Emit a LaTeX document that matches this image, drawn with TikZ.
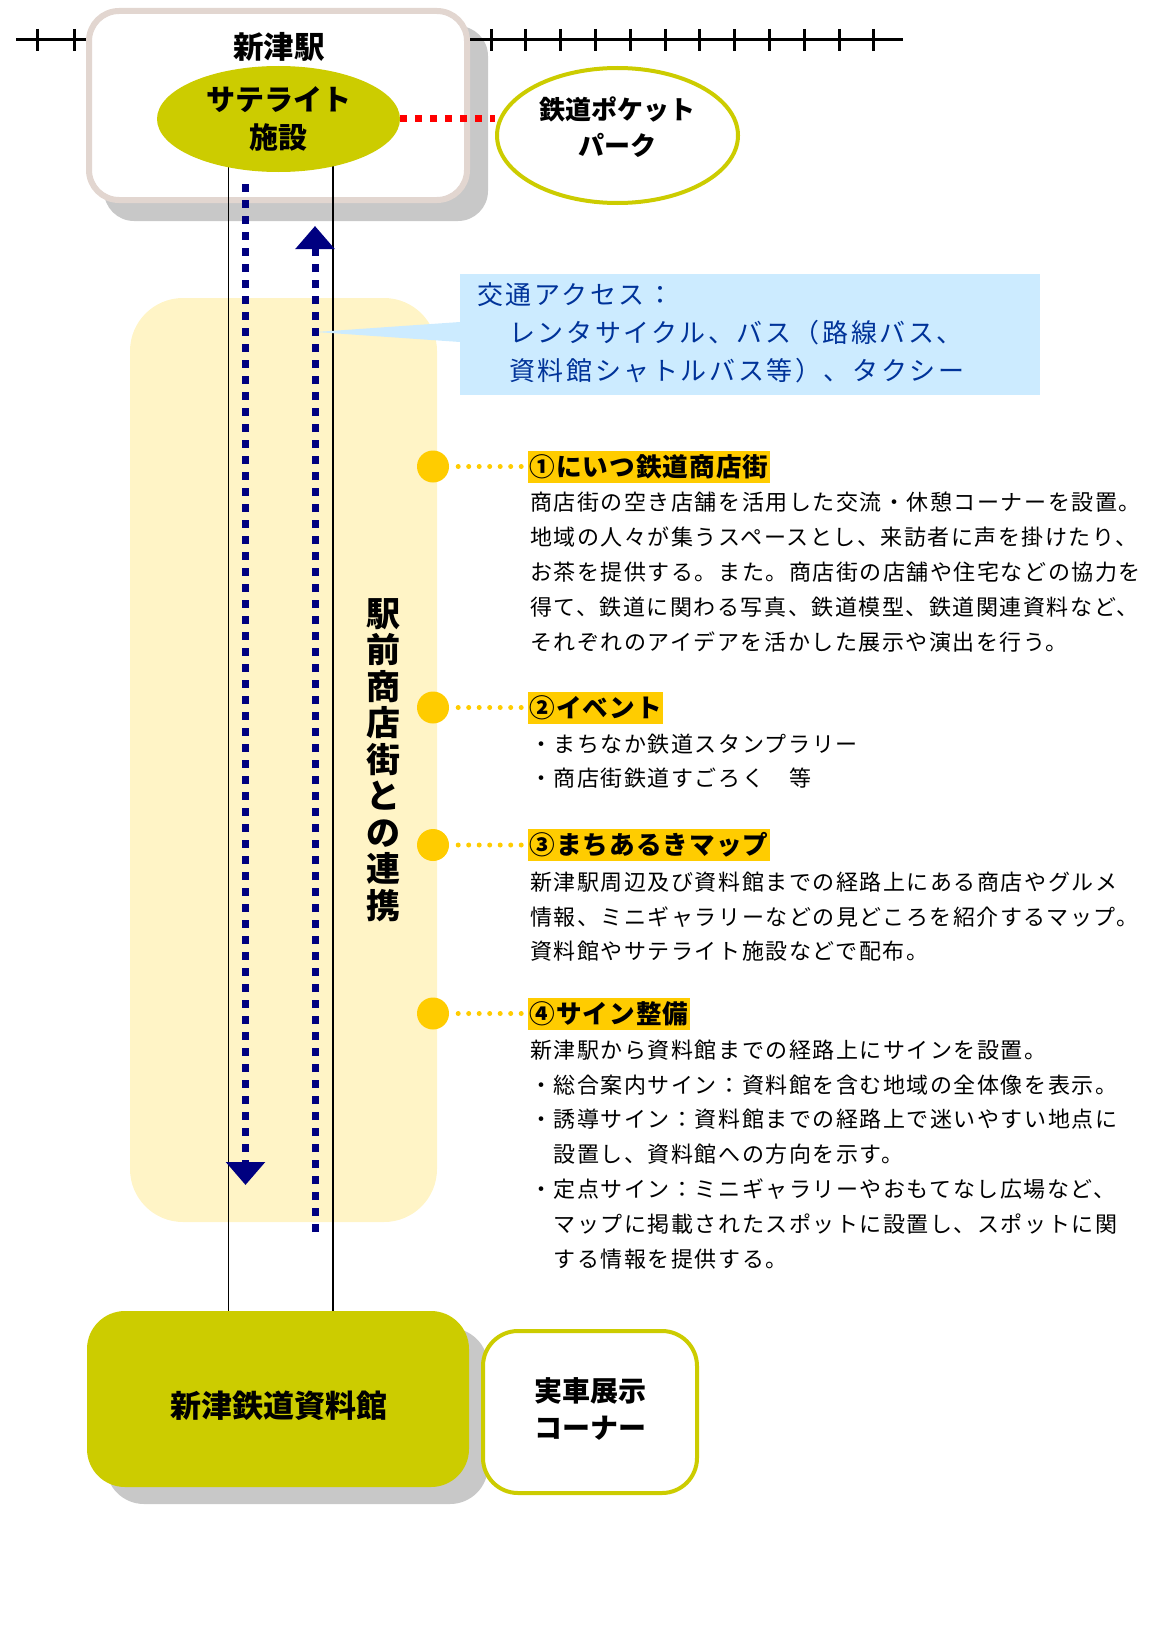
\documentclass[tikz,border=0pt]{standalone}
\usepackage{fontspec}
\setmainfont{Noto Sans CJK JP}
\newfontfamily\jpbody[LetterSpace=7]{Noto Sans CJK JP}
\newfontfamily\jphead[LetterSpace=4]{Noto Sans CJK JP}
\newfontfamily\jpcall[LetterSpace=10]{Noto Sans CJK JP}
\usetikzlibrary{shapes.geometric,arrows.meta}
\definecolor{ocol}{HTML}{CCCC00}
\definecolor{frameC}{HTML}{E2D6D0}
\definecolor{shadowC}{HTML}{C8C8C8}
\definecolor{regionC}{HTML}{FFF4C6}
\definecolor{calloutC}{HTML}{CCEBFF}
\definecolor{calltext}{HTML}{003399}
\definecolor{dotC}{HTML}{FFCC00}
\definecolor{navyC}{HTML}{000080}
\tikzset{
  rail/.style={draw=black, line width=3pt},
  stationbox/.style={draw=frameC, line width=6pt, fill=white, rounded corners=30pt, minimum width=378pt, minimum height=189pt, inner sep=0pt},
  satell/.style={ellipse, fill=ocol, minimum width=243pt, minimum height=106pt, inner sep=0pt, align=center, font=\bfseries\fontsize{29pt}{38pt}\selectfont},
  parkell/.style={ellipse, draw=ocol, line width=4pt, fill=white, minimum width=241pt, minimum height=135pt, inner sep=0pt},
  museumbox/.style={fill=ocol, rounded corners=38pt, minimum width=382pt, minimum height=176pt, inner sep=0pt},
  carbox/.style={draw=ocol, line width=4pt, fill=white, rounded corners=35pt, minimum width=214pt, minimum height=162pt, inner sep=0pt},
  shadowbox/.style={fill=shadowC},
  calloutbox/.style={fill=calloutC, minimum width=580pt, minimum height=121pt, inner sep=0pt},
  blackline/.style={draw=black, line width=1.6pt},
  navyarrow/.style={draw=navyC, line width=7pt, dash pattern=on 8pt off 8pt, -{Triangle[width=38pt,length=23pt]}},
  reddots/.style={draw=red, line width=7pt, dash pattern=on 7pt off 8pt},
  ydot/.style={circle, fill=dotC, minimum size=32pt, inner sep=0pt},
  ylink/.style={draw=dotC, line width=5pt, line cap=round, dash pattern=on 0pt off 10.5pt},
  headbox/.style={fill=dotC, anchor=west, minimum height=32pt, inner xsep=1.5pt, inner ysep=0pt, font=\jphead\bfseries\fontsize{25.6pt}{28pt}\selectfont},
  bodytext/.style={anchor=north west, align=left, inner sep=0pt, font=\jpbody\fontsize{22pt}{34.8pt}\selectfont},
  titletext/.style={inner sep=0pt, align=center},
}
\begin{document}
\begin{tikzpicture}[x=1pt,y=-1pt]
\useasboundingbox (0,0) rectangle (1164,1651);
% shopping street region
\fill[regionC, rounded corners=53pt] (130,298) rectangle (437,1222);
% shadows
\fill[shadowbox, rounded corners=30pt] (104,26) rectangle (488,221);
\fill[shadowbox, rounded corners=38pt] (106,1328) rectangle (488,1504);
% railway
\draw[rail] (16,40) -- (90,40);
\draw[rail] (466,40) -- (903,40);
\foreach \x in {37,74} \draw[rail] (\x,29) -- (\x,51);
\foreach \k in {0,...,11} \draw[rail] ({491+34.8*\k},29) -- ({491+34.8*\k},51);
% station
\node[stationbox] (station) at (278,105.5) {};
\node[titletext, font=\bfseries\fontsize{30.5pt}{34pt}\selectfont] (stname) at (279,47) {新津駅};
% vertical lines
\coordinate (la) at (228.6,150);
\coordinate (lb) at (228.6,1320);
\coordinate (ra) at (333,150);
\coordinate (rb) at (333,1320);
\draw[blackline] (la) -- (lb);
\draw[blackline] (ra) -- (rb);
% satellite
\node[satell] (sat) at (278.5,119) {サテライト\\施設};
% pocket park
\node[parkell] (park) at (617.5,135.5) {};
\node[titletext, font=\bfseries\fontsize{26pt}{36pt}\selectfont] (parktext) at (617,127) {鉄道ポケット\\パーク};
\draw[reddots] (sat.east) -- (sat.east -| park.west);
% callout
\node[calloutbox] (access) at (750,334.5) {};
\fill[calloutC] (460,322) -- (316,332) -- (460,342) -- cycle;
\node[anchor=north west, align=left, inner sep=0pt, text=calltext, font=\jpcall\fontsize{26pt}{38pt}\selectfont] (acctext) at (477,282) {交通アクセス：\\\hspace*{32pt}レンタサイクル、バス（路線バス、\\\hspace*{32pt}資料館シャトルバス等）、タクシー};
% arrows
\coordinate (dns) at (245.5,184);
\coordinate (dne) at (245.5,1185);
\coordinate (ups) at (315,1232);
\coordinate (upe) at (315,226);
\draw[navyarrow] (dns) -- (dne);
\draw[navyarrow] (ups) -- (upe);
% vertical title
\node[titletext, font=\bfseries\fontsize{34pt}{36.5pt}\selectfont] (vtitle) at (383.5,760) {駅\\前\\商\\店\\街\\と\\の\\連\\携};
% sections
\node[ydot] (dot1) at (433,466.5) {};
\node[ydot] (dot2) at (433,707.5) {};
\node[ydot] (dot3) at (433,845) {};
\node[ydot] (dot4) at (433,1013.5) {};
\node[headbox] (h1) at (528,466.5) {①にいつ鉄道商店街};
\node[headbox] (h2) at (528,707.5) {②イベント};
\node[headbox] (h3) at (528,845) {③まちあるきマップ};
\node[headbox] (h4) at (528,1013.5) {④サイン整備};
\draw[ylink] ([xshift=9pt]dot1.east) -- (h1.west);
\draw[ylink] ([xshift=9pt]dot2.east) -- (h2.west);
\draw[ylink] ([xshift=9pt]dot3.east) -- (h3.west);
\draw[ylink] ([xshift=9pt]dot4.east) -- (h4.west);
\node[bodytext] (b1) at (530,492) {商店街の空き店舗を活用した交流・休憩コーナーを設置。\\地域の人々が集うスペースとし、来訪者に声を掛けたり、\\お茶を提供する。また。商店街の店舗や住宅などの協力を\\得て、鉄道に関わる写真、鉄道模型、鉄道関連資料など、\\それぞれのアイデアを活かした展示や演出を行う。};
\node[bodytext] (b2) at (530,733.5) {・まちなか鉄道スタンプラリー\\・商店街鉄道すごろく　等};
\node[bodytext] (b3) at (530,871.5) {新津駅周辺及び資料館までの経路上にある商店やグルメ\\情報、ミニギャラリーなどの見どころを紹介するマップ。\\資料館やサテライト施設などで配布。};
\node[bodytext] (b4) at (530,1039.5) {新津駅から資料館までの経路上にサインを設置。\\・総合案内サイン：資料館を含む地域の全体像を表示。\\・誘導サイン：資料館までの経路上で迷いやすい地点に\\　設置し、資料館への方向を示す。\\・定点サイン：ミニギャラリーやおもてなし広場など、\\　マップに掲載されたスポットに設置し、スポットに関\\　する情報を提供する。};
% museum
\node[museumbox] (museum) at (278,1399) {};
\node[titletext, font=\bfseries\fontsize{31pt}{34pt}\selectfont] (mustext) at (279,1406) {新津鉄道資料館};
% real car corner
\node[carbox] (car) at (590,1412) {};
\node[titletext, font=\bfseries\fontsize{28pt}{37pt}\selectfont] (cartext) at (590,1409) {実車展示\\コーナー};
\end{tikzpicture}
\end{document}
